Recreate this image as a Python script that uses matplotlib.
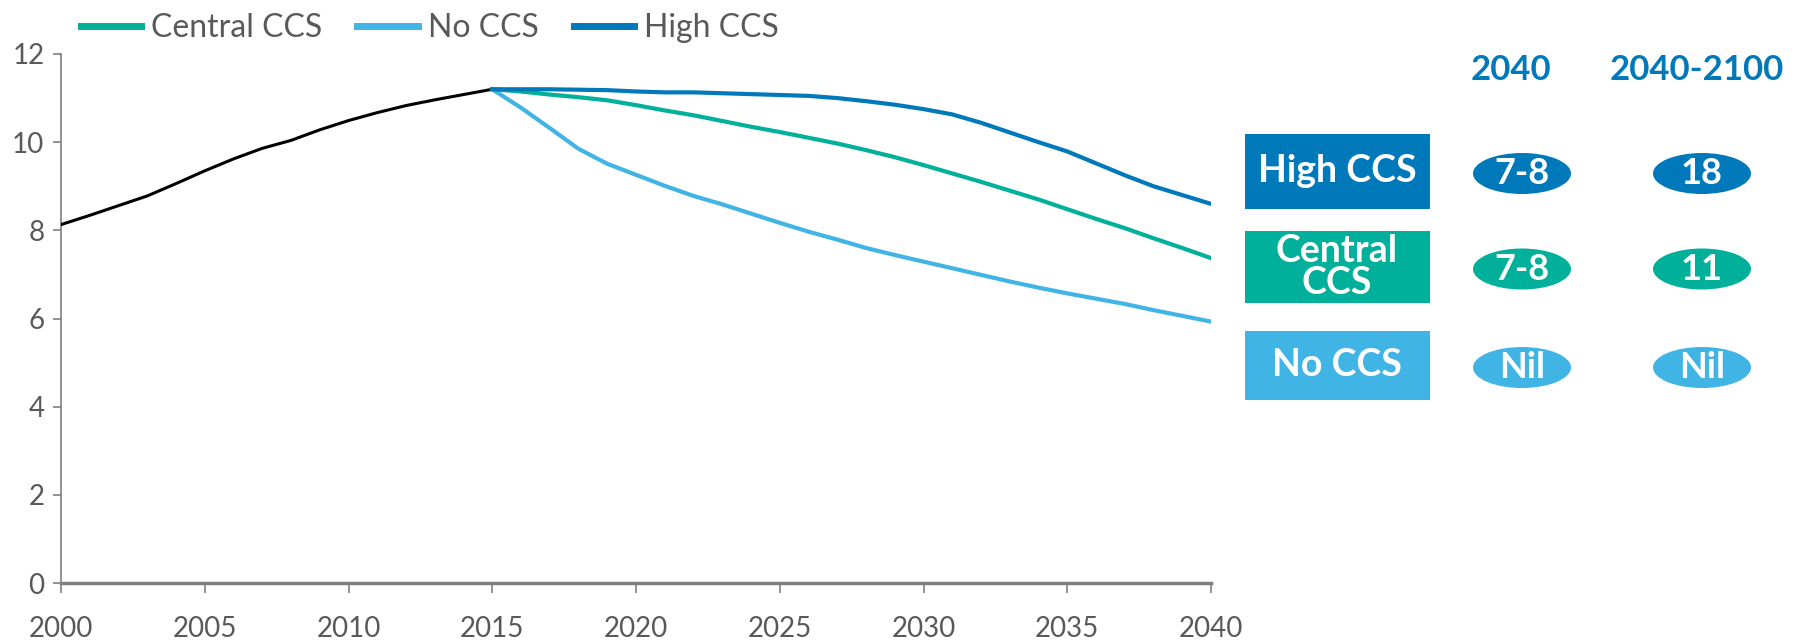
import matplotlib.pyplot as plt
from matplotlib.patches import Rectangle, Ellipse

# historical emissions and the three CCS scenarios
years_hist = list(range(2000, 2016))
hist = [8.13, 8.34, 8.56, 8.78, 9.06, 9.35, 9.62, 9.86, 10.04, 10.28,
        10.49, 10.67, 10.83, 10.96, 11.08, 11.2]

years_proj = list(range(2015, 2041))
central_ccs = [11.2, 11.15, 11.08, 11.02, 10.95, 10.84, 10.72, 10.61, 10.48, 10.35,
               10.23, 10.1, 9.97, 9.82, 9.66, 9.48, 9.29, 9.1, 8.9, 8.7,
               8.48, 8.26, 8.05, 7.82, 7.6, 7.37]
no_ccs = [11.2, 10.78, 10.32, 9.85, 9.51, 9.26, 9.01, 8.78, 8.59, 8.38,
          8.17, 7.97, 7.79, 7.6, 7.44, 7.29, 7.14, 6.99, 6.84, 6.7,
          6.57, 6.45, 6.33, 6.19, 6.06, 5.93]
high_ccs = [11.2, 11.2, 11.2, 11.19, 11.18, 11.15, 11.13, 11.13, 11.11, 11.09,
            11.07, 11.05, 11.0, 10.93, 10.85, 10.75, 10.63, 10.44, 10.22, 10.0,
            9.79, 9.52, 9.25, 9.0, 8.8, 8.6]

# side table: storage figures per scenario
scenarios = ['High CCS', 'Central\nCCS', 'No CCS']
col_headers = ['2040', '2040-2100']
storage_2040 = ['7-8', '7-8', 'Nil']
storage_2100 = ['18', '11', 'Nil']

TEAL = '#00B09B'
LIGHT = '#41B4E6'
BLUE = '#0079BB'
GREY = '#595959'
row_colors = [BLUE, TEAL, LIGHT]

plt.rcParams['font.family'] = ['Lato', 'DejaVu Sans']

W, H = 1797, 642
fig = plt.figure(figsize=(W / 100, H / 100), dpi=100)
ax = fig.add_axes([61 / W, 1 - 583 / H, (1211 - 61) / W, (583 - 54) / H])

ax.plot(years_hist, hist, color='black', lw=2.2, zorder=3)
l_no, = ax.plot(years_proj, no_ccs, color=LIGHT, lw=3, label='No CCS', zorder=4)
l_cen, = ax.plot(years_proj, central_ccs, color=TEAL, lw=3, label='Central CCS', zorder=5)
l_high, = ax.plot(years_proj, high_ccs, color=BLUE, lw=3, label='High CCS', zorder=6)

ax.set_xlim(2000, 2040)
ax.set_ylim(0, 12)
ax.set_xticks(range(2000, 2041, 5))
ax.set_yticks(range(0, 13, 2))
for s in ['top', 'right']:
    ax.spines[s].set_visible(False)
ax.spines['left'].set_color('#7f7f7f')
ax.spines['left'].set_linewidth(1.2)
ax.spines['bottom'].set_color('#7f7f7f')
ax.spines['bottom'].set_linewidth(2.5)
ax.tick_params(axis='y', direction='out', length=6, width=1.2, color='#7f7f7f',
               labelsize=20, labelcolor=GREY, pad=6)
ax.tick_params(axis='x', direction='out', length=7, width=1.2, color='#7f7f7f',
               labelsize=20, labelcolor=GREY, pad=17)

leg = fig.legend(handles=[l_cen, l_no, l_high], loc='upper left',
                 bbox_to_anchor=(52 / W, 1.025), ncol=3, frameon=False,
                 fontsize=23, handlelength=1.9, handletextpad=0.3,
                 columnspacing=1.1, labelcolor=GREY)
for h in leg.legend_handles:
    h.set_linewidth(5)

# right-hand panel drawn in pixel coordinates
panel = fig.add_axes([0, 0, 1, 1], facecolor='none')
panel.set_xlim(0, W)
panel.set_ylim(H, 0)
panel.axis('off')

col_x = [1511, 1697]
for x, t in zip(col_x, col_headers):
    panel.text(x, 70, t, ha='center', va='center', fontsize=25,
               fontweight='bold', color=BLUE)

box_rows = [(134, 209), (231, 303), (331, 400)]
ell_x = [1522, 1702]
for (y0, y1), name, c, a, b in zip(box_rows, scenarios, row_colors,
                                   storage_2040, storage_2100):
    panel.add_patch(Rectangle((1245, y0), 185, y1 - y0, color=c, lw=0))
    panel.text(1337, (y0 + y1) / 2, name, ha='center', va='center',
               fontsize=27, fontweight='bold', color='white', linespacing=0.9)
    yc = (y0 + y1) / 2 + 2
    for x, v in zip(ell_x, [a, b]):
        panel.add_patch(Ellipse((x, yc), 98, 41, color=c, lw=0))
        panel.text(x, yc, v, ha='center', va='center', fontsize=26,
                   fontweight='bold', color='white')

fig.savefig('out.png', dpi=100)
